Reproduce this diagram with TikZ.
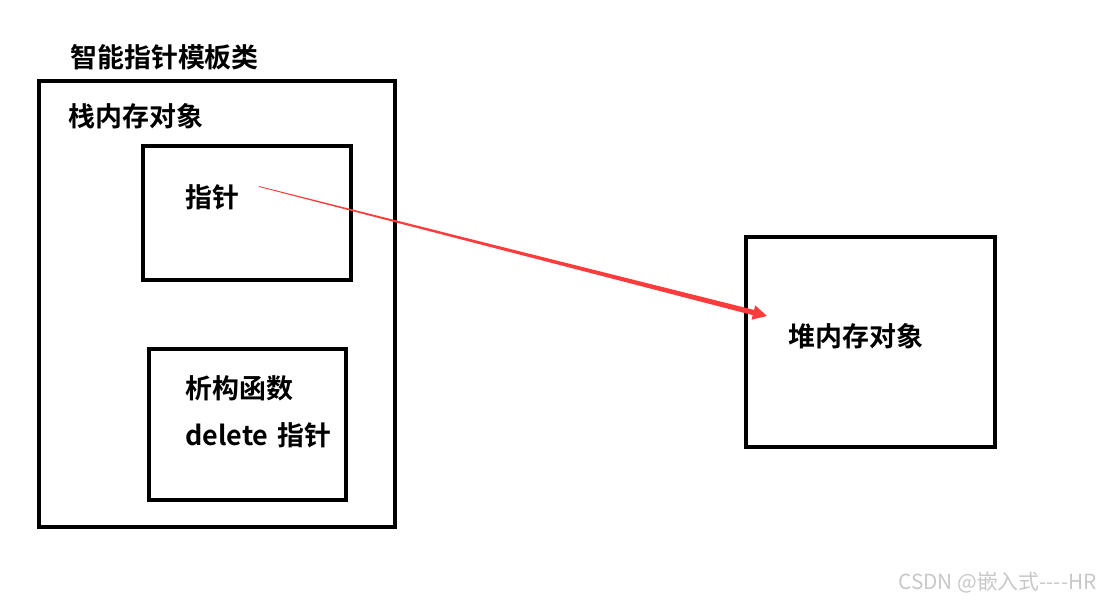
\documentclass[tikz,border=0pt]{standalone}
\usepackage{fontspec}
\newfontfamily\cjk{Noto Sans CJK SC}
\newfontfamily\cjkb{Noto Sans CJK SC Bold}
\usetikzlibrary{calc,fit}
\definecolor{arrred}{RGB}{250,60,60}
\definecolor{wm}{RGB}{200,200,200}
\begin{document}
\begin{tikzpicture}[x=0.75pt,y=-0.75pt,
  box/.style={draw=black,line width=3pt,inner sep=0pt},
  lbl/.style={anchor=west,inner sep=0pt,font=\cjkb\fontsize{20.2pt}{23pt}\selectfont}]
\useasboundingbox (0,0) rectangle (1106,603);
\fill[white] (0,0) rectangle (1106,603);
\node[box,fit={(39,81) (395,527)}] (outer) {};
\node[box,fit={(143,146) (351,280)}] (ptrbox) {};
\node[box,fit={(149,349) (346,500)}] (dtorbox) {};
\node[box,fit={(746,237) (995,447)}] (heap) {};
\node[lbl] (title) at (70,57) {智能指针模板类};
\node[lbl] (stack) at (68,116) {栈内存对象};
\node[lbl] (ptr) at (185,197) {指针};
\node[lbl] (dtor) at (185,388) {析构函数};
\node[lbl] (del) at (185,435) {delete\hspace{0.1em} 指针};
\node[lbl] (heaptxt) at (788,336) {堆内存对象};
\node[anchor=west,inner sep=0pt,text=wm,font=\cjk\fontsize{15.6pt}{18pt}\selectfont] (mark) at (898,583) {CSDN @嵌入式----HR};
% tapered arrow
\coordinate (ps) at (259,186.5);
\coordinate (pe) at (767,316);
\coordinate (hb) at ($(pe)!10.5pt!(ps)$);
\fill[arrred] ($(ps)!0.3pt!90:(pe)$) -- ($(hb)!2pt!90:(pe)$) -- ($(hb)!5.5pt!90:(pe)$) -- (pe)
  -- ($(hb)!5.5pt!-90:(pe)$) -- ($(hb)!2pt!-90:(pe)$) -- ($(ps)!0.3pt!-90:(pe)$) -- cycle;
\end{tikzpicture}
\end{document}
